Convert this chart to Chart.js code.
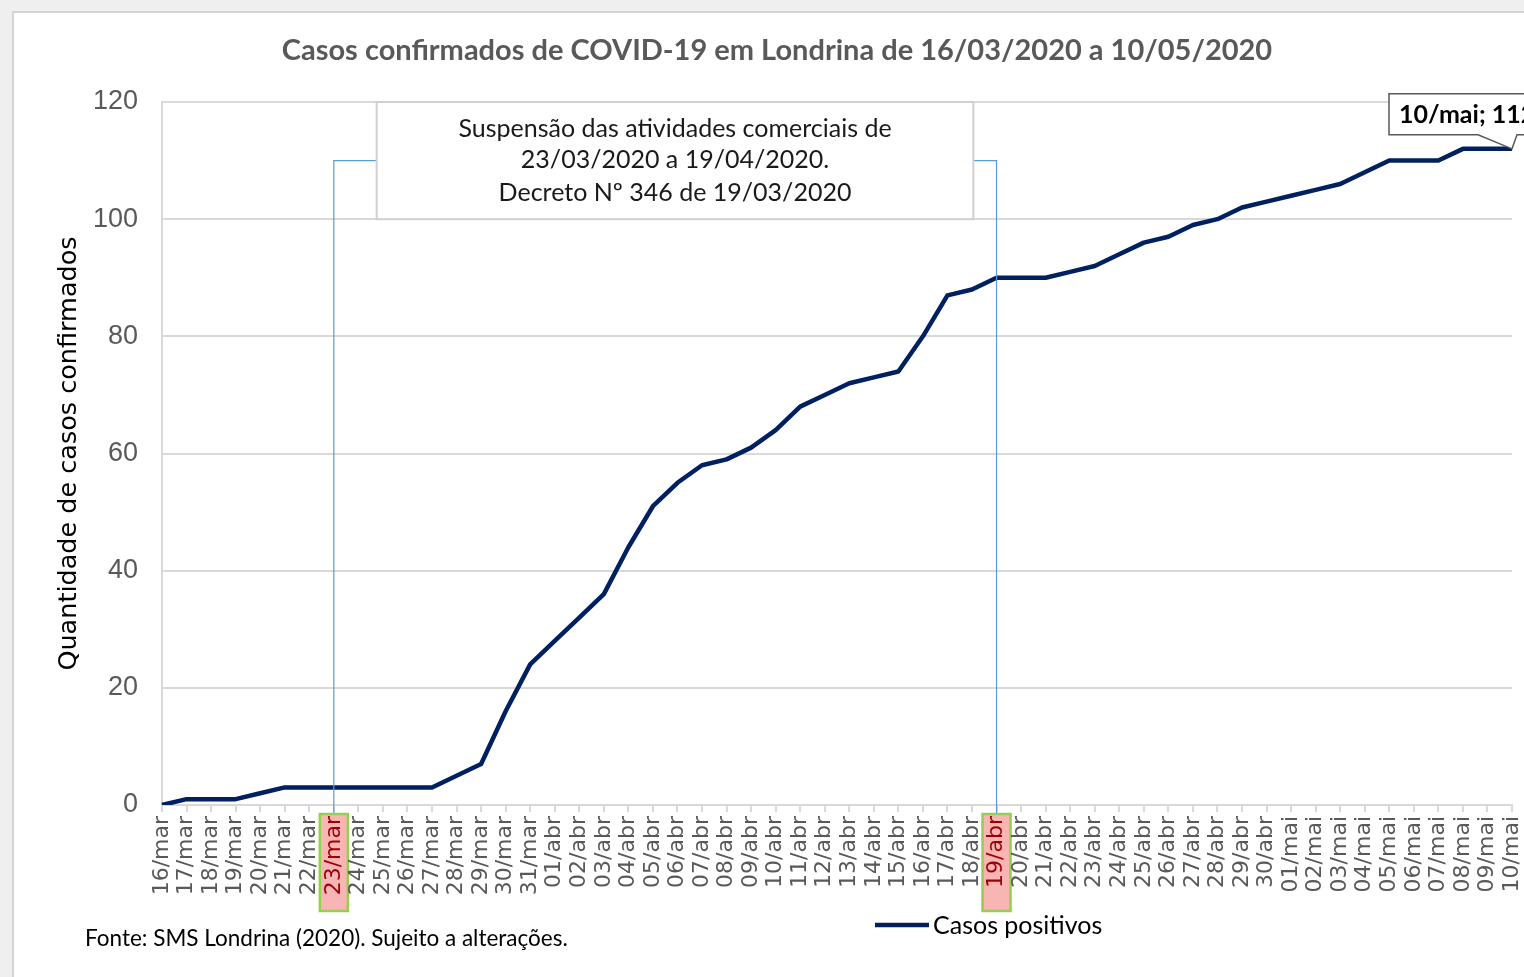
<!DOCTYPE html>
<html>
<head>
<meta charset="utf-8">
<script src="https://cdn.jsdelivr.net/npm/chart.js@4.4.0/dist/chart.umd.min.js"></script>
<style>
  html, body { margin: 0; padding: 0; background: #fff; overflow: hidden; }
</style>
</head>
<body>
<canvas id="casesChart" width="1524" height="977"></canvas>
<script>
// daily labels, 16/mar .. 10/mai
const days = [
  '16/mar', '17/mar', '18/mar', '19/mar', '20/mar', '21/mar', '22/mar', '23/mar',
  '24/mar', '25/mar', '26/mar', '27/mar', '28/mar', '29/mar', '30/mar', '31/mar',
  '01/abr', '02/abr', '03/abr', '04/abr', '05/abr', '06/abr', '07/abr', '08/abr',
  '09/abr', '10/abr', '11/abr', '12/abr', '13/abr', '14/abr', '15/abr', '16/abr',
  '17/abr', '18/abr', '19/abr', '20/abr', '21/abr', '22/abr', '23/abr', '24/abr',
  '25/abr', '26/abr', '27/abr', '28/abr', '29/abr', '30/abr',
  '01/mai', '02/mai', '03/mai', '04/mai', '05/mai', '06/mai', '07/mai', '08/mai',
  '09/mai', '10/mai'
];

// confirmed cases (cumulative)
const cases = [
  0, 1, 1, 1, 2, 3, 3, 3,
  3, 3, 3, 3, 5, 7, 16, 24,
  28, 32, 36, 44, 51, 55, 58, 59,
  61, 64, 68, 70, 72, 73, 74, 80,
  87, 88, 90, 90, 90, 91, 92, 94,
  96, 97, 99, 100, 102, 103,
  104, 105, 106, 108, 110, 110, 110, 112,
  112, 112
];

const suspensionStart = '23/mar';
const suspensionEnd = '19/abr';
const noteLines = [
  'Suspensão das atividades comerciais de',
  '23/03/2020 a 19/04/2020.',
  'Decreto Nº 346 de 19/03/2020'
];
const chartTitle = 'Casos confirmados de COVID-19 em Londrina de 16/03/2020 a 10/05/2020';
const sourceNote = 'Fonte: SMS Londrina (2020). Sujeito a alterações.';

const LINE_COLOR = '#002060';
const GRID_COLOR = '#d9d9d9';
const CALIBRI = 'Lato, "Noto Sans", sans-serif';
const VERDANA = '"DejaVu Sans", Verdana, sans-serif';
const ARIAL = '"Liberation Sans", Arial, sans-serif';

const isMarked = (label) => label === suspensionStart || label === suspensionEnd;

// frame, background and the highlighted tick label boxes
const backdropPlugin = {
  id: 'backdrop',
  beforeDraw(chart) {
    const { ctx, width, height } = chart;
    const x = chart.scales.x;
    const bottom = chart.chartArea.bottom;
    ctx.save();
    ctx.fillStyle = '#efefef';
    ctx.fillRect(0, 0, width, height);
    ctx.fillStyle = '#ffffff';
    ctx.fillRect(13, 12, width, height);
    ctx.strokeStyle = '#d4d4d4';
    ctx.lineWidth = 2;
    ctx.strokeRect(13, 12, width + 10, height + 10);

    [suspensionStart, suspensionEnd].forEach(label => {
      const px = x.getPixelForValue(days.indexOf(label));
      ctx.fillStyle = '#f9b4b4';
      ctx.fillRect(px - 14, bottom + 9, 28, 97);
      ctx.strokeStyle = '#92d050';
      ctx.lineWidth = 2.5;
      ctx.strokeRect(px - 14, bottom + 9, 28, 97);
    });
    ctx.restore();
  }
};

// note box with its connectors, data callout, title, legend and source
const overlayPlugin = {
  id: 'overlay',
  afterDraw(chart) {
    const { ctx, chartArea } = chart;
    const x = chart.scales.x;
    const y = chart.scales.y;
    ctx.save();

    // connector lines
    const boxLeft = chartArea.left + chartArea.width * 0.159;
    const boxRight = chartArea.left + chartArea.width * 0.601;
    const boxTop = y.getPixelForValue(120);
    const boxBottom = y.getPixelForValue(100);
    const linkY = y.getPixelForValue(110);
    const startX = x.getPixelForValue(days.indexOf(suspensionStart));
    const endX = x.getPixelForValue(days.indexOf(suspensionEnd));
    ctx.strokeStyle = '#5b9bd5';
    ctx.lineWidth = 1.2;
    ctx.beginPath();
    ctx.moveTo(boxLeft, linkY);
    ctx.lineTo(startX, linkY);
    ctx.lineTo(startX, chartArea.bottom + 8);
    ctx.moveTo(boxRight, linkY);
    ctx.lineTo(endX, linkY);
    ctx.lineTo(endX, chartArea.bottom + 8);
    ctx.stroke();

    // note box
    ctx.fillStyle = '#ffffff';
    ctx.fillRect(boxLeft, boxTop, boxRight - boxLeft, boxBottom - boxTop);
    ctx.strokeStyle = '#d0d0d0';
    ctx.lineWidth = 2;
    ctx.strokeRect(boxLeft, boxTop, boxRight - boxLeft, boxBottom - boxTop);
    ctx.fillStyle = '#1a1a1a';
    ctx.font = '25px ' + CALIBRI;
    ctx.textAlign = 'center';
    ctx.textBaseline = 'middle';
    const midX = (boxLeft + boxRight) / 2;
    ctx.fillText(noteLines[0], midX, boxTop + 27);
    ctx.fillText(noteLines[1], midX, boxTop + 58);
    ctx.fillText(noteLines[2], midX, boxTop + 91);

    // callout for the last point
    const last = days.length - 1;
    const lx = x.getPixelForValue(last);
    const ly = y.getPixelForValue(cases[last]);
    const cTop = ly - 55, cBottom = ly - 14, cLeft = lx - 123;
    ctx.fillStyle = '#ffffff';
    ctx.strokeStyle = '#595959';
    ctx.lineWidth = 1.5;
    ctx.beginPath();
    ctx.moveTo(cLeft, cTop);
    ctx.lineTo(cLeft + 200, cTop);
    ctx.lineTo(cLeft + 200, cBottom);
    ctx.lineTo(lx + 5, cBottom);
    ctx.lineTo(lx, ly);
    ctx.lineTo(lx - 34, cBottom);
    ctx.lineTo(cLeft, cBottom);
    ctx.closePath();
    ctx.fill();
    ctx.stroke();
    ctx.fillStyle = '#000000';
    ctx.font = 'bold 25px ' + CALIBRI;
    ctx.textAlign = 'left';
    ctx.fillText(days[last] + '; ' + cases[last], cLeft + 10, (cTop + cBottom) / 2 + 1);

    // title
    ctx.fillStyle = '#595959';
    ctx.font = 'bold 29px ' + CALIBRI;
    ctx.textAlign = 'center';
    ctx.fillText(chartTitle, 777, 51);

    // legend
    ctx.strokeStyle = LINE_COLOR;
    ctx.lineWidth = 4.5;
    ctx.beginPath();
    ctx.moveTo(875, 925);
    ctx.lineTo(929, 925);
    ctx.stroke();
    ctx.fillStyle = '#000000';
    ctx.font = '25px ' + CALIBRI;
    ctx.textAlign = 'left';
    ctx.fillText(chart.data.datasets[0].label, 933, 926);

    // source
    ctx.font = '22.5px ' + CALIBRI;
    ctx.fillText(sourceNote, 85, 939);
    ctx.restore();
  }
};

const ctx = document.getElementById('casesChart').getContext('2d');
new Chart(ctx, {
  type: 'line',
  data: {
    labels: days,
    datasets: [{
      label: 'Casos positivos',
      data: cases,
      borderColor: LINE_COLOR,
      backgroundColor: LINE_COLOR,
      borderWidth: 4.5,
      borderJoinStyle: 'round',
      pointRadius: 0,
      tension: 0,
      fill: false
    }]
  },
  options: {
    responsive: false,
    animation: false,
    devicePixelRatio: 1,
    layout: { padding: { left: 12, top: 102, right: 12, bottom: 0 } },
    plugins: {
      legend: { display: false },
      title: { display: false },
      tooltip: { enabled: false }
    },
    scales: {
      x: {
        offset: false,
        grid: { drawOnChartArea: false, drawTicks: true, tickLength: 7, color: GRID_COLOR, lineWidth: 2 },
        border: { display: true, color: GRID_COLOR, width: 2 },
        ticks: {
          autoSkip: false,
          minRotation: 90,
          maxRotation: 90,
          padding: 4,
          font: { family: VERDANA, size: 22 },
          color: (c) => isMarked(days[c.index]) ? '#9c0006' : '#595959'
        },
        afterFit: (scale) => {
          scale.height = 172;
          scale.paddingLeft = 0;
          scale.paddingRight = 0;
        }
      },
      y: {
        min: 0,
        max: 120,
        ticks: {
          stepSize: 20,
          padding: 24,
          font: { family: ARIAL, size: 27 },
          color: '#595959'
        },
        grid: { color: GRID_COLOR, lineWidth: 2, drawTicks: false },
        border: { display: true, color: GRID_COLOR, width: 2 },
        title: {
          display: true,
          text: 'Quantidade de casos confirmados',
          font: { family: VERDANA, size: 25.5 },
          color: '#000000',
          padding: { top: 42, bottom: 0 }
        },
        afterFit: (scale) => { scale.width = 150; }
      }
    }
  },
  plugins: [backdropPlugin, overlayPlugin]
});
</script>
</body>
</html>
